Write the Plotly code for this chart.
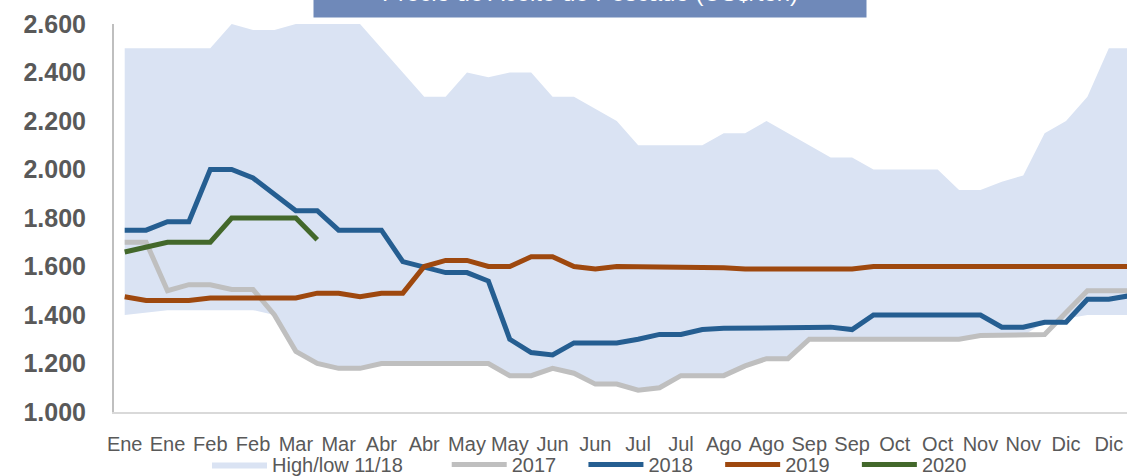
"""Fish oil price chart (US$/ton), weekly, band 2011-2018 plus 2017-2020 lines."""
import plotly.graph_objects as go

# weekly positions, 4 per month, labels every 2 weeks
weeks = list(range(48))
tick_pos = list(range(0, 48, 2))
tick_text = ["Ene", "Ene", "Feb", "Feb", "Mar", "Mar", "Abr", "Abr", "May", "May",
             "Jun", "Jun", "Jul", "Jul", "Ago", "Ago", "Sep", "Sep", "Oct", "Oct",
             "Nov", "Nov", "Dic", "Dic"]

y_ticks = [1000, 1200, 1400, 1600, 1800, 2000, 2200, 2400, 2600]
y_tick_text = ["1.000", "1.200", "1.400", "1.600", "1.800", "2.000", "2.200", "2.400", "2.600"]

band_high = [2500, 2500, 2500, 2500, 2500, 2600, 2575, 2575, 2600, 2600, 2600, 2600,
             2500, 2400, 2300, 2300, 2400, 2380, 2400, 2400, 2300, 2300, 2250, 2200,
             2100, 2100, 2100, 2100, 2150, 2150, 2200, 2150, 2100, 2050, 2050, 2000,
             2000, 2000, 2000, 1915, 1915, 1950, 1975, 2150, 2200, 2300, 2500, 2500]
band_low = [1400, 1410, 1420, 1420, 1420, 1420, 1420, 1400, 1250, 1200, 1180, 1180,
            1200, 1200, 1200, 1200, 1200, 1200, 1150, 1150, 1180, 1160, 1115, 1115,
            1090, 1100, 1150, 1150, 1150, 1190, 1220, 1220, 1300, 1300, 1300, 1300,
            1300, 1300, 1300, 1300, 1315, 1315, 1315, 1370, 1385, 1400, 1400, 1400]

y2017 = [1700, 1700, 1500, 1525, 1525, 1505, 1505, 1400, 1250, 1200, 1180, 1180,
         1200, 1200, 1200, 1200, 1200, 1200, 1150, 1150, 1180, 1160, 1115, 1115,
         1090, 1100, 1150, 1150, 1150, 1190, 1220, 1220, 1300, 1300, 1300, 1300,
         1300, 1300, 1300, 1300, 1315, 1315, 1315, 1320, 1410, 1500, 1500, 1500]
y2018 = [1750, 1750, 1785, 1785, 2000, 2000, 1965, 1900, 1830, 1830, 1750, 1750,
         1750, 1620, 1595, 1575, 1575, 1540, 1300, 1245, 1235, 1285, 1285, 1285,
         1300, 1320, 1320, 1340, 1345, 1345, 1345, 1345, 1350, 1350, 1340, 1400,
         1400, 1400, 1400, 1400, 1400, 1350, 1350, 1370, 1370, 1465, 1465, 1480]
y2019 = [1475, 1460, 1460, 1460, 1470, 1470, 1470, 1470, 1470, 1490, 1490, 1475,
         1490, 1490, 1600, 1625, 1625, 1600, 1600, 1640, 1640, 1600, 1590, 1600,
         1600, 1600, 1595, 1595, 1595, 1590, 1590, 1590, 1590, 1590, 1590, 1600,
         1600, 1600, 1600, 1600, 1600, 1600, 1600, 1600, 1600, 1600, 1600, 1600]
y2020 = [1660, 1680, 1700, 1700, 1700, 1800, 1800, 1800, 1800, 1710]

NB = "\u00a0"
TEXT = "#595959"
FONT = "Liberation Sans"

fig = go.Figure()
fig.add_trace(go.Scatter(x=weeks, y=band_low, mode="lines", line=dict(width=0),
                         hoverinfo="skip", showlegend=False))
fig.add_trace(go.Scatter(x=weeks, y=band_high, mode="lines", line=dict(width=0),
                         fill="tonexty", fillcolor="#DAE3F3",
                         name="High/low 11/18" + NB * 7))
fig.add_trace(go.Scatter(x=weeks, y=y2017, mode="lines", name="2017" + NB * 4,
                         line=dict(color="#BFBFBF", width=5)))
fig.add_trace(go.Scatter(x=weeks, y=y2018, mode="lines", name="2018" + NB * 4,
                         line=dict(color="#255E91", width=5)))
fig.add_trace(go.Scatter(x=weeks, y=y2019, mode="lines", name="2019" + NB * 4,
                         line=dict(color="#9E480E", width=5)))
fig.add_trace(go.Scatter(x=weeks[:len(y2020)], y=y2020, mode="lines", name="2020",
                         line=dict(color="#43682B", width=5)))

fig.add_annotation(
    text="Precio de Aceite de Pescado (US$/ton)", xref="paper", yref="paper",
    x=(590 - 114) / 1013, y=1 + 6 / 388, xanchor="center", yanchor="bottom",
    showarrow=False, width=550, height=48, bgcolor="#6F89B9",
    font=dict(family=FONT, size=24, color="white"),
)

fig.update_layout(
    width=1127, height=476,
    margin=dict(l=114, r=0, t=24, b=64, autoexpand=False),
    paper_bgcolor="white", plot_bgcolor="white",
    font=dict(family=FONT, color=TEXT),
    showlegend=True,
    legend=dict(orientation="h", x=(207 - 114) / 1013, xanchor="left",
                y=(412 - 445) / 388, yanchor="top", itemwidth=55,
                font=dict(size=20, color=TEXT), traceorder="normal",
                bgcolor="rgba(0,0,0,0)"),
)
fig.update_xaxes(range=[-0.5, 46.85], tickmode="array", tickvals=tick_pos, ticktext=tick_text,
                 showgrid=False, zeroline=False, showline=True, linecolor="#D9D9D9",
                 linewidth=1.5, ticks="", tickfont=dict(size=20, color=TEXT),
                 ticklabelstandoff=13, automargin=False)
fig.update_yaxes(range=[1000, 2600], tickmode="array", tickvals=y_ticks, ticktext=y_tick_text,
                 showgrid=False, zeroline=False, showline=True, linecolor="#BFBFBF",
                 linewidth=2, ticks="", tickfont=dict(size=25, color=TEXT, weight="bold"),
                 ticklabelstandoff=21, automargin=False)

# page body has a default 8px margin; drop it so the figure sits at the window origin
fig.write_html("out.html", config={"displayModeBar": False},
               post_script="document.body.style.margin = '0px';")
